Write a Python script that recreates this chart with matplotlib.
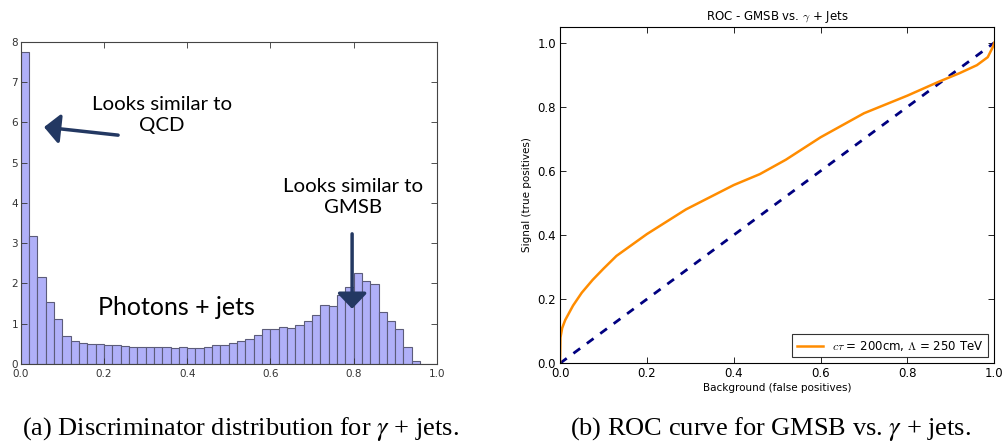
import numpy as np
import matplotlib
matplotlib.use("Agg")
import matplotlib.pyplot as plt

# discriminator histogram (gamma + jets), 50 bins of width 0.02
bin_width = 0.02
hist_heights = [
    7.74, 3.18, 2.15, 1.55, 1.11, 0.70, 0.56, 0.52, 0.50, 0.49,
    0.47, 0.46, 0.44, 0.43, 0.43, 0.43, 0.43, 0.43, 0.40, 0.41,
    0.40, 0.40, 0.43, 0.46, 0.48, 0.52, 0.56, 0.61, 0.71, 0.88,
    0.88, 0.92, 0.90, 0.96, 1.07, 1.21, 1.47, 1.44, 1.70, 1.90,
    2.27, 2.07, 1.99, 1.29, 1.07, 0.88, 0.41, 0.08, 0.0, 0.0,
]

# ROC curve
roc_fpr = [0, 0.001, 0.005, 0.012, 0.03, 0.05, 0.075, 0.1, 0.13, 0.2, 0.29,
           0.4, 0.46, 0.52, 0.6, 0.7, 0.8, 0.87, 0.92, 0.96, 0.985, 0.996, 1.0]
roc_tpr = [0, 0.08, 0.11, 0.135, 0.18, 0.22, 0.26, 0.295, 0.335, 0.403, 0.48,
           0.556, 0.59, 0.635, 0.705, 0.78, 0.835, 0.877, 0.905, 0.93, 0.955, 0.985, 1.0]
roc_label = r"$c\tau$ = 200cm, $\Lambda$ = 250 TeV"

plt.rcParams["mathtext.fontset"] = "cm"
plt.rcParams["xtick.direction"] = "in"
plt.rcParams["ytick.direction"] = "in"
plt.rcParams["xtick.top"] = True
plt.rcParams["ytick.right"] = True

fig = plt.figure(figsize=(10.02, 4.42), dpi=100)
navy = "#233862"
anno_font = "Lato"

# ---- (a) histogram ----
ax1 = fig.add_axes([0.0207, 0.1765, 0.4152, 0.7292])
lefts = np.arange(len(hist_heights)) * bin_width
ax1.bar(lefts, hist_heights, width=bin_width, align="edge",
        facecolor="#b0b0f8", edgecolor="#5c5c7a", linewidth=0.8)
ax1.set_xlim(0, 1)
ax1.set_ylim(0, 8)
ax1.set_xticks(np.arange(0, 1.01, 0.2))
ax1.set_yticks(range(0, 9))
ax1.tick_params(labelsize=7.5, length=4, width=0.6, colors="#333333", pad=2)
ax1.tick_params(axis="x", pad=3.5)
for s in ax1.spines.values():
    s.set_color("#444444")
    s.set_linewidth(0.8)

ax1.annotate("", xy=(0.056, 5.88), xytext=(0.234, 5.68),
             arrowprops=dict(arrowstyle="-|>,head_length=0.47,head_width=0.45",
                             mutation_scale=20, lw=2.5, color=navy,
                             shrinkA=0, shrinkB=0))
ax1.text(0.34, 6.18, "Looks similar to\nQCD", ha="center", va="center",
         fontsize=14.7, family=anno_font, linespacing=1.25)
ax1.annotate("", xy=(0.7965, 1.37), xytext=(0.7965, 3.23),
             arrowprops=dict(arrowstyle="-|>,head_length=0.47,head_width=0.45",
                             mutation_scale=20, lw=2.5, color=navy,
                             shrinkA=0, shrinkB=0))
ax1.text(0.7995, 4.14, "Looks similar to\nGMSB", ha="center", va="center",
         fontsize=14.7, family=anno_font, linespacing=1.25)
ax1.text(0.3745, 1.41, "Photons + jets", ha="center", va="center",
         fontsize=18, family=anno_font)

# ---- (b) ROC ----
ax2 = fig.add_axes([0.5589, 0.1781, 0.4334, 0.7615])
ax2.plot([0, 1], [0, 1], color="navy", lw=2, linestyle=(0, (3, 3)))
ax2.plot(roc_fpr, roc_tpr, color="darkorange", lw=1.8, label=roc_label)
ax2.set_xlim(0, 1)
ax2.set_ylim(0, 1.05)
ax2.set_xticks(np.arange(0, 1.01, 0.2))
ax2.set_yticks(np.arange(0, 1.01, 0.2))
ax2.tick_params(labelsize=8.5, length=4, width=0.6, pad=3)
ax2.set_title(r"ROC - GMSB vs. $\gamma$ + Jets", fontsize=8.5, pad=5)
ax2.set_xlabel("Background (false positives)", fontsize=7.5, labelpad=2)
ax2.set_ylabel("Signal (true positives)", fontsize=7.5, labelpad=4)
leg = ax2.legend(loc="lower right", fontsize=8.5, fancybox=False,
                 edgecolor="black", handlelength=2.2, borderaxespad=0.5)
leg.get_frame().set_linewidth(0.8)

# ---- captions ----
fig.text(0.240, 0.0158, r"(a) Discriminator distribution for $\gamma$ + jets.",
         ha="center", va="baseline", fontsize=19, family="Liberation Serif",
         math_fontfamily="stix")
fig.text(0.7685, 0.0158, r"(b) ROC curve for GMSB vs. $\gamma$ + jets.",
         ha="center", va="baseline", fontsize=19, family="Liberation Serif",
         math_fontfamily="stix")

fig.savefig("out.png", dpi=100)
